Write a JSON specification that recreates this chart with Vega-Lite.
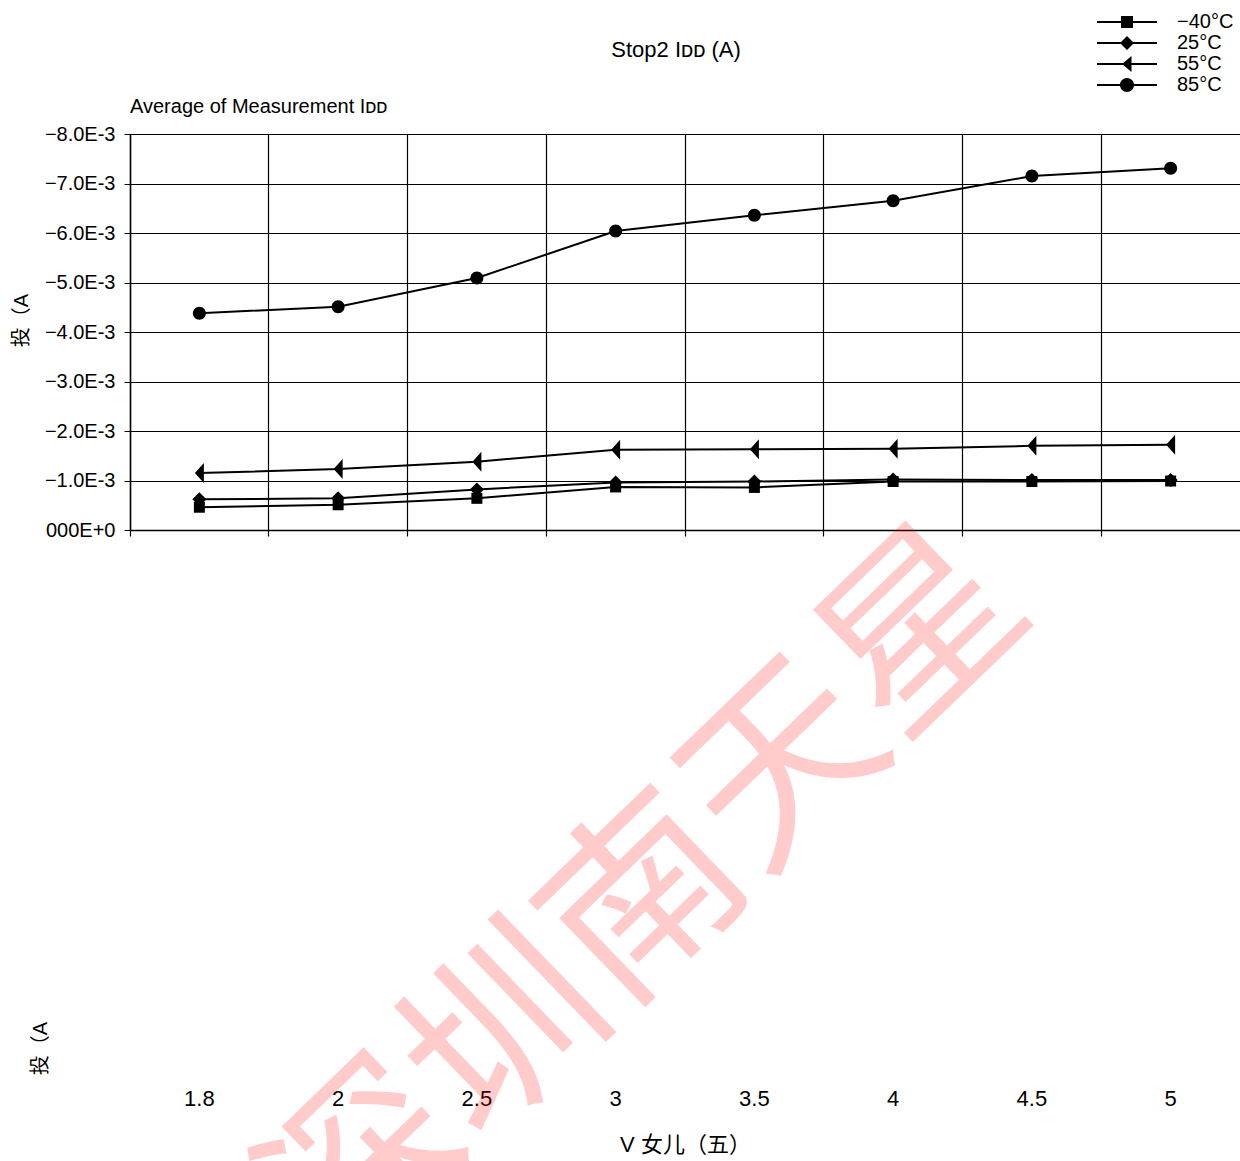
{
  "$schema": "https://vega.github.io/schema/vega-lite/v6.json",
  "background": "white",
  "padding": {"left": 11, "top": 12, "right": 0, "bottom": 0},
  "title": {
    "text": "Stop2 Iᴅᴅ (A)",
    "font": "Liberation Sans Narrow, Liberation Sans, sans-serif",
    "fontSize": 22,
    "fontWeight": "normal",
    "color": "black",
    "anchor": "middle",
    "frame": "group",
    "offset": -50,
    "dx": -9
  },
  "datasets": {
    "idd": [
      {"V": "1.8", "T": "−40°C", "I": -0.00046},
      {"V": "2", "T": "−40°C", "I": -0.00051},
      {"V": "2.5", "T": "−40°C", "I": -0.00064},
      {"V": "3", "T": "−40°C", "I": -0.00087},
      {"V": "3.5", "T": "−40°C", "I": -0.00086},
      {"V": "4", "T": "−40°C", "I": -0.00098},
      {"V": "4.5", "T": "−40°C", "I": -0.00098},
      {"V": "5", "T": "−40°C", "I": -0.00099},
      {"V": "1.8", "T": "25°C", "I": -0.00062},
      {"V": "2", "T": "25°C", "I": -0.00064},
      {"V": "2.5", "T": "25°C", "I": -0.00082},
      {"V": "3", "T": "25°C", "I": -0.00096},
      {"V": "3.5", "T": "25°C", "I": -0.00098},
      {"V": "4", "T": "25°C", "I": -0.00102},
      {"V": "4.5", "T": "25°C", "I": -0.00101},
      {"V": "5", "T": "25°C", "I": -0.00101},
      {"V": "1.8", "T": "55°C", "I": -0.00115},
      {"V": "2", "T": "55°C", "I": -0.00123},
      {"V": "2.5", "T": "55°C", "I": -0.00138},
      {"V": "3", "T": "55°C", "I": -0.00162},
      {"V": "3.5", "T": "55°C", "I": -0.00163},
      {"V": "4", "T": "55°C", "I": -0.00164},
      {"V": "4.5", "T": "55°C", "I": -0.00170},
      {"V": "5", "T": "55°C", "I": -0.00172},
      {"V": "1.8", "T": "85°C", "I": -0.00438},
      {"V": "2", "T": "85°C", "I": -0.00451},
      {"V": "2.5", "T": "85°C", "I": -0.00509},
      {"V": "3", "T": "85°C", "I": -0.00604},
      {"V": "3.5", "T": "85°C", "I": -0.00636},
      {"V": "4", "T": "85°C", "I": -0.00665},
      {"V": "4.5", "T": "85°C", "I": -0.00715},
      {"V": "5", "T": "85°C", "I": -0.00731}
    ],
    "stamp": [
      {"label": "深圳南天星"}
    ]
  },
  "bounds": "flush",
  "spacing": 30,
  "vconcat": [
    {
      "width": 1110,
      "height": 396,
      "title": {
        "text": "Average of Measurement Iᴅᴅ",
        "font": "Liberation Sans Narrow, Liberation Sans, sans-serif",
        "fontSize": 20,
        "fontWeight": "normal",
        "color": "black",
        "anchor": "start",
        "frame": "group",
        "offset": -105
      },
      "data": {"name": "idd"},
      "encoding": {
        "x": {
          "field": "V",
          "type": "ordinal",
          "scale": {
            "type": "band",
            "domain": ["1.8", "2", "2.5", "3", "3.5", "4", "4.5", "5"],
            "paddingInner": 0,
            "paddingOuter": 0
          },
          "axis": {
            "orient": "bottom",
            "bandPosition": 0,
            "labels": false,
            "title": null,
            "grid": true,
            "gridColor": "black",
            "gridOpacity": 1,
            "gridWidth": 1.2,
            "ticks": true,
            "tickSize": 6,
            "tickColor": "black",
            "tickWidth": 1.2,
            "domain": true,
            "domainColor": "black",
            "domainWidth": 1.5
          }
        },
        "y": {
          "field": "I",
          "type": "quantitative",
          "scale": {"domain": [0, -0.008]},
          "axis": {
            "values": [0, -0.001, -0.002, -0.003, -0.004, -0.005, -0.006, -0.007, -0.008],
            "labelExpr": "datum.value === 0 ? '000E+0' : '−' + format(-datum.value * 1000, '.1f') + 'E-3'",
            "labelFont": "Liberation Sans Narrow, Liberation Sans, sans-serif",
            "labelFontSize": 20,
            "labelColor": "black",
            "labelPadding": 9,
            "grid": true,
            "gridColor": "black",
            "gridOpacity": 1,
            "gridWidth": 1,
            "tickSize": 6,
            "tickColor": "black",
            "domainColor": "black",
            "domainWidth": 1.5,
            "title": "投（A",
            "titleFont": "Liberation Sans, Noto Sans CJK SC",
            "titleFontSize": 20,
            "titleFontWeight": "normal",
            "titleColor": "black",
            "titlePadding": 13,
            "titleY": 186
          }
        }
      },
      "layer": [
        {
          "mark": {"type": "line", "color": "black", "strokeWidth": 2},
          "encoding": {"detail": {"field": "T"}}
        },
        {
          "mark": {"type": "point", "filled": true, "color": "black", "opacity": 1, "size": 100},
          "encoding": {
            "shape": {
              "field": "T",
              "type": "nominal",
              "scale": {
                "domain": ["−40°C", "25°C", "55°C", "85°C"],
                "range": [
                  "M-1.1,-1.1H1.1V1.1H-1.1Z",
                  "M0,-1.4L1.4,0L0,1.4L-1.4,0Z",
                  "M0.9,-2L0.9,2L-0.9,0Z",
                  "M-1.3,0A1.3,1.3,0,1,1,1.3,0A1.3,1.3,0,1,1,-1.3,0Z"
                ]
              },
              "legend": null
            }
          }
        },
        {
          "mark": {"type": "point", "filled": true, "color": "black", "opacity": 0, "size": 100},
          "encoding": {
            "shape": {
              "field": "T",
              "type": "nominal",
              "scale": {
                "domain": ["−40°C", "25°C", "55°C", "85°C"],
                "range": [
                  "M-6,-0.2H6V0.2H-6ZM-1.2,-1.2H1.2V1.2H-1.2Z",
                  "M-6,-0.2H6V0.2H-6ZM0,-1.4L1.4,0L0,1.4L-1.4,0Z",
                  "M-6,-0.2H6V0.2H-6ZM0.9,-1.6L0.9,1.6L-1,0Z",
                  "M-6,-0.2H6V0.2H-6ZM-1.4,0A1.4,1.4,0,1,1,1.4,0A1.4,1.4,0,1,1,-1.4,0Z"
                ]
              },
              "legend": {
                "title": null,
                "orient": "none",
                "legendX": 987,
                "legendY": -122,
                "padding": 0,
                "symbolSize": 100,
                "symbolOpacity": 1,
                "symbolFillColor": "black",
                "symbolStrokeWidth": 0,
                "labelOffset": 40,
                "rowPadding": 1,
                "labelFont": "Liberation Sans Narrow, Liberation Sans, sans-serif",
                "labelFontSize": 20,
                "labelColor": "black"
              }
            }
          }
        }
      ],
      "resolve": {"scale": {"shape": "independent"}, "legend": {"shape": "independent"}}
    },
    {
      "width": 1110,
      "height": 520,
      "data": {"name": "stamp"},
      "mark": {
        "type": "text",
        "font": "Noto Sans CJK SC",
        "fontSize": 193,
        "angle": -44,
        "color": "#ff0000",
        "opacity": 0.2,
        "align": "center",
        "baseline": "middle",
        "dx": 45
      },
      "encoding": {
        "text": {"field": "label"},
        "x": {
          "datum": "3",
          "type": "ordinal",
          "scale": {
            "type": "band",
            "domain": ["1.8", "2", "2.5", "3", "3.5", "4", "4.5", "5"],
            "paddingInner": 0,
            "paddingOuter": 0
          },
          "axis": {
            "labelAngle": 0,
            "labelFont": "Liberation Sans, sans-serif",
            "labelFontSize": 22,
            "labelColor": "black",
            "labelPadding": 8,
            "domain": false,
            "ticks": false,
            "grid": false,
            "title": "V 女儿（五）",
            "titleFont": "Liberation Sans, Noto Sans CJK SC",
            "titleFontSize": 22,
            "titleFontWeight": "normal",
            "titleColor": "black",
            "titlePadding": 25
          }
        },
        "y": {
          "datum": 0.281,
          "type": "quantitative",
          "scale": {"domain": [0, 1]},
          "axis": {
            "labels": false,
            "ticks": false,
            "domain": false,
            "grid": false,
            "title": "投（A",
            "titleFont": "Liberation Sans, Noto Sans CJK SC",
            "titleFontSize": 20,
            "titleFontWeight": "normal",
            "titleColor": "black",
            "titlePadding": 80,
            "titleY": 488
          }
        }
      }
    }
  ],
  "config": {
    "view": {"stroke": null}
  }
}
